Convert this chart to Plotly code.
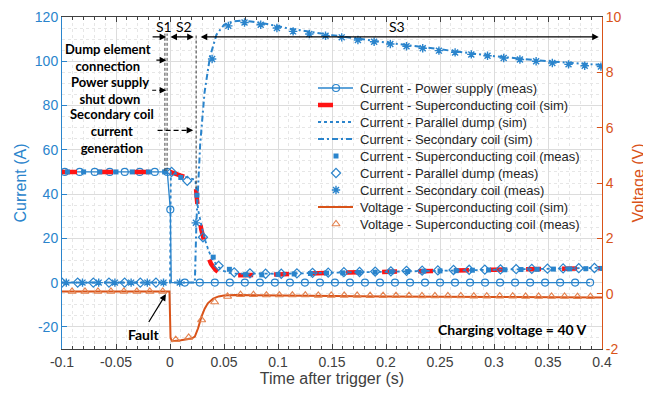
import plotly.graph_objects as go

# ---------------- data ----------------
# Current - Power supply (meas)
t_ps = [-0.0975, -0.0836, -0.0697, -0.0558, -0.0419, -0.028, -0.0141, -0.0025, 0.0003,
        0.0137, 0.0276, 0.0415, 0.0554, 0.0693, 0.0832, 0.0971, 0.111, 0.1249, 0.1388,
        0.1527, 0.1666, 0.1805, 0.1944, 0.2083, 0.2222, 0.2361, 0.25, 0.2639, 0.2778,
        0.2917, 0.3056, 0.3195, 0.3334, 0.3473, 0.3612, 0.3751, 0.389]
i_ps = [50, 50, 50, 50, 50, 50, 50, 50, 33,
        0, 0, 0, 0, 0, 0, 0, 0, 0, 0,
        0, 0, 0, 0, 0, 0, 0, 0, 0, 0,
        0, 0, 0, 0, 0, 0, 0, 0]
# extra breakpoint of the measured power supply trace (vertical drop)
t_ps_drop = [0.0012]
i_ps_drop = [0]

# Current - Superconducting coil (sim)
t_coil_sim = [-0.1, 0.0, 0.01, 0.0235, 0.0245, 0.026, 0.029, 0.032, 0.035, 0.038, 0.042,
              0.046, 0.05, 0.06, 0.08, 0.1, 0.15, 0.2, 0.25, 0.3, 0.35, 0.4]
i_coil_sim = [50, 50, 48.3, 46.5, 40, 32, 24, 17, 12, 8.5, 5.8,
              4.3, 3.7, 3.3, 3.4, 3.7, 4.4, 5.0, 5.4, 5.8, 6.2, 6.5]

# Current - Parallel dump (sim)
t_pd_sim = [-0.1, 0.0, 0.0008, 0.01, 0.0235, 0.0245, 0.026, 0.029, 0.032, 0.036, 0.04,
            0.045, 0.05, 0.055, 0.06, 0.1, 0.2, 0.3, 0.4]
i_pd_sim = [0, 0, 50, 48.3, 46.5, 40, 33, 26, 20, 14, 10,
            7, 5.2, 4.4, 4.1, 4.0, 5.0, 5.9, 6.7]

# Current - Secondary coil (sim)
t_sec_sim = [-0.1, 0.023, 0.0245, 0.026, 0.028, 0.032, 0.037, 0.043, 0.05, 0.058, 0.066,
             0.075, 0.09, 0.11, 0.15, 0.2, 0.25, 0.3, 0.35, 0.4]
i_sec_sim = [0, 0, 28, 45, 63, 86, 102, 112, 116.5, 118, 118.3,
             118, 116.8, 114.8, 111.8, 108.5, 105.3, 102.3, 100, 98.3]

# Current - Superconducting coil (meas)
t_coil = [-0.095, -0.08, -0.065, -0.05, -0.035, -0.02, -0.005, 0.01, 0.025, 0.04, 0.055,
          0.07, 0.085, 0.1, 0.115, 0.13, 0.145, 0.16, 0.175, 0.19, 0.205, 0.22, 0.235,
          0.25, 0.265, 0.28, 0.295, 0.31, 0.325, 0.34, 0.355, 0.37, 0.385, 0.4]
i_coil = [50, 50, 50, 50, 50, 50, 50, 47.5, 39.5, 11.5, 6,
          3.6, 3.5, 3.7, 3.9, 4.1, 4.3, 4.4, 4.6, 4.7, 4.9, 5.0, 5.2,
          5.3, 5.4, 5.6, 5.7, 5.8, 5.9, 6.0, 6.1, 6.2, 6.3, 6.4]

# Current - Parallel dump (meas)
t_pd = [-0.1, -0.0855, -0.071, -0.0565, -0.042, -0.0275, -0.013, 0.0015, 0.016, 0.0305,
        0.045, 0.0595, 0.074, 0.0885, 0.103, 0.1175, 0.132, 0.1465, 0.161, 0.1755, 0.19,
        0.2045, 0.219, 0.2335, 0.248, 0.2625, 0.277, 0.2915, 0.306, 0.3205, 0.335, 0.3495,
        0.364, 0.3785, 0.393]
i_pd = [0, 0, 0, 0, 0, 0, 0, 50, 46, 20.5,
        7.6, 4.6, 4.2, 4.0, 4.0, 4.2, 4.4, 4.5, 4.7, 4.8, 5.0,
        5.1, 5.3, 5.4, 5.5, 5.7, 5.8, 5.9, 6.0, 6.1, 6.2, 6.3,
        6.4, 6.5, 6.6]

# Current - Secondary coil (meas)
t_sec = [-0.096, -0.081, -0.066, -0.051, -0.036, -0.021, -0.006, 0.009, 0.024, 0.039,
         0.054, 0.069, 0.084, 0.099, 0.114, 0.129, 0.144, 0.159, 0.174, 0.189, 0.204,
         0.219, 0.234, 0.249, 0.264, 0.279, 0.294, 0.309, 0.324, 0.339, 0.354, 0.369,
         0.384, 0.399]
i_sec = [0, 0, 0, 0, 0, 0, 0, 0, 27, 101,
         116, 117.5, 116.5, 115, 113.5, 112.3, 111.5, 110.8, 109.6, 108.8, 107.8,
         106.8, 105.9, 104.8, 104, 103.1, 102.5, 101.5, 100.8, 100, 99.2, 98.6,
         98, 97.6]

# Voltage - Superconducting coil (sim)
t_v_sim = [-0.1, -0.0005, 0.0005, 0.002, 0.01, 0.02, 0.023, 0.026, 0.029, 0.032, 0.035,
           0.04, 0.045, 0.05, 0.06, 0.1, 0.2, 0.3, 0.4]
v_sim = [0.08, 0.08, -1.6, -1.72, -1.68, -1.62, -1.55, -1.25, -0.85, -0.55, -0.35,
         -0.18, -0.1, -0.07, -0.05, -0.07, -0.1, -0.12, -0.14]

# Voltage - Superconducting coil (meas)
t_v = [-0.0907, -0.0787, -0.0667, -0.0547, -0.0427, -0.0307, -0.0187, -0.0067, 0.0053,
       0.0173, 0.0293, 0.0413, 0.0533, 0.0653, 0.0773, 0.0893, 0.1013, 0.1133, 0.1253,
       0.1373, 0.1493, 0.1613, 0.1733, 0.1853, 0.1973, 0.2093, 0.2213, 0.2333, 0.2453,
       0.2573, 0.2693, 0.2813, 0.2933, 0.3053, 0.3173, 0.3293, 0.3413, 0.3533, 0.3653,
       0.3773, 0.3893]
v_meas = [0.08, 0.08, 0.08, 0.08, 0.08, 0.08, 0.08, 0.08, -1.66,
          -1.58, -0.95, -0.3, -0.1, -0.04, -0.04, -0.05, -0.05, -0.05, -0.05,
          -0.06, -0.06, -0.06, -0.06, -0.07, -0.07, -0.07, -0.07, -0.08, -0.08,
          -0.08, -0.08, -0.09, -0.09, -0.09, -0.09, -0.10, -0.10, -0.10, -0.10,
          -0.11, -0.11]

# tick labels
x_tick_vals = [-0.1, -0.05, 0, 0.05, 0.1, 0.15, 0.2, 0.25, 0.3, 0.35, 0.4]
x_tick_text = ["-0.1", "-0.05", "0", "0.05", "0.1", "0.15", "0.2", "0.25", "0.3", "0.35", "0.4"]
y_tick_vals = [-20, 0, 20, 40, 60, 80, 100, 120]
y_tick_text = ["-20", "0", "20", "40", "60", "80", "100", "120"]
y2_tick_vals = [-2, 0, 2, 4, 6, 8, 10]
y2_tick_text = ["-2", "0", "2", "4", "6", "8", "10"]

legend_names = [
    "Current - Power supply (meas)",
    "Current - Superconducting coil (sim)",
    "Current - Parallel dump (sim)",
    "Current - Secondary coil (sim)",
    "Current - Superconducting coil (meas)",
    "Current - Parallel dump (meas)",
    "Current - Secondary coil (meas)",
    "Voltage - Superconducting coil (sim)",
    "Voltage - Superconducting coil (meas)",
]

# ---------------- styles / layout ----------------
# The page body has an 8 px default margin, so the figure is drawn 8 px in and down.
OFF = 8
SCREEN_W, SCREEN_H = 651, 393
W, H = SCREEN_W - OFF, SCREEN_H - OFF
PX0, PX1 = 62, 602     # plot area on screen
PY0, PY1 = 17, 349
ML, MT = PX0 - OFF, PY0 - OFF
MR, MB = W - (PX1 - OFF), H - (PY1 - OFF)

BLUE = "#2A84CC"
ORANGE = "#D95319"
TRI = "#E3824F"
RED = "#FF1414"
GREY = "#404040"
FONT = "Liberation Sans, Arial, sans-serif"
ANN_FONT = "Lato, sans-serif"

s_ps_line = dict(color=BLUE, width=1.3)
s_ps_mk = dict(symbol="circle-open", size=7, color=BLUE, line=dict(width=1.2, color=BLUE))
s_coil_sim = dict(color=RED, width=4.5, dash="15px,21px")
s_pd_sim = dict(color=BLUE, width=1.8, dash="dot")
s_sec_sim = dict(color=BLUE, width=2, dash="6px,3px,2px,3px")
s_coil_mk = dict(symbol="square", size=5, color=BLUE)
s_pd_mk = dict(symbol="diamond-open", size=7, color=BLUE, line=dict(width=1.2, color=BLUE))
s_sec_mk = dict(symbol="asterisk-open", size=7, color=BLUE, line=dict(width=1.4, color=BLUE))
s_v_sim = dict(color=ORANGE, width=2)
s_v_mk = dict(symbol="triangle-up-open", size=7, color=TRI, line=dict(width=1.1, color=TRI))

fig = go.Figure()

ps_pts = sorted(zip(t_ps + t_ps_drop, i_ps + i_ps_drop))
fig.add_trace(go.Scatter(x=[p[0] for p in ps_pts], y=[p[1] for p in ps_pts], mode="lines",
                         line=s_ps_line, hoverinfo="skip"))
fig.add_trace(go.Scatter(x=t_ps, y=i_ps, mode="markers", marker=s_ps_mk))
fig.add_trace(go.Scatter(x=t_coil_sim, y=i_coil_sim, mode="lines", line=s_coil_sim))
fig.add_trace(go.Scatter(x=t_pd_sim, y=i_pd_sim, mode="lines", line=s_pd_sim))
fig.add_trace(go.Scatter(x=t_sec_sim, y=i_sec_sim, mode="lines", line=s_sec_sim))
fig.add_trace(go.Scatter(x=t_coil, y=i_coil, mode="markers", marker=s_coil_mk))
fig.add_trace(go.Scatter(x=t_pd, y=i_pd, mode="markers", marker=s_pd_mk))
fig.add_trace(go.Scatter(x=t_sec, y=i_sec, mode="markers", marker=s_sec_mk))
fig.add_trace(go.Scatter(x=t_v_sim, y=v_sim, mode="lines", line=s_v_sim, yaxis="y2"))
fig.add_trace(go.Scatter(x=t_v, y=v_meas, mode="markers", marker=s_v_mk, yaxis="y2"))

# ---------------- legend (drawn manually on a screen-pixel overlay axis) ----------------
leg_specs = [
    dict(line=s_ps_line, marker=s_ps_mk),
    dict(line=s_coil_sim),
    dict(line=s_pd_sim),
    dict(line=s_sec_sim),
    dict(marker=s_coil_mk),
    dict(marker=s_pd_mk),
    dict(marker=s_sec_mk),
    dict(line=s_v_sim),
    dict(marker=s_v_mk),
]
KEY_X0, KEY_X1, KEY_XM, TEXT_X = 318, 353, 336, 358
ROW0, ROWH = 88, 17
ann = []
for i, (name, spec) in enumerate(zip(legend_names, leg_specs)):
    yrow = ROW0 + ROWH * i
    if "line" in spec:
        fig.add_trace(go.Scatter(x=[KEY_X0, KEY_X1], y=[yrow, yrow], mode="lines",
                                 line=spec["line"], xaxis="x3", yaxis="y3", hoverinfo="skip",
                                 cliponaxis=False))
    if "marker" in spec:
        fig.add_trace(go.Scatter(x=[KEY_XM], y=[yrow], mode="markers", marker=spec["marker"],
                                 xaxis="x3", yaxis="y3", hoverinfo="skip", cliponaxis=False))
    ann.append(dict(x=TEXT_X, y=yrow, xref="x3", yref="y3", text=name, showarrow=False,
                    xanchor="left", yanchor="middle",
                    font=dict(family=FONT, size=13, color="#262626")))

# ---------------- annotations ----------------
def txt(x, y, s, bold=True, size=14):
    ann.append(dict(x=x, y=y, xref="x", yref="y", text=("<b>%s</b>" % s) if bold else s,
                    showarrow=False, font=dict(family=ANN_FONT, size=size, color="black"),
                    xanchor="center", yanchor="middle"))

def arrow(x0, y0, x1, y1, both=False):
    ann.append(dict(x=x1, y=y1, ax=x0, ay=y0, xref="x", yref="y", axref="x", ayref="y",
                    text="", showarrow=True, arrowhead=2, arrowsize=1.1, arrowwidth=1.2,
                    arrowcolor="black", arrowside="end+start" if both else "end",
                    startarrowhead=2, startarrowsize=1.1))

def headonly(x1, y1):
    ann.append(dict(x=x1, y=y1, ax=-7, ay=0, xref="x", yref="y",
                    text="", showarrow=True, arrowhead=2, arrowsize=1.1, arrowwidth=1.2,
                    arrowcolor="black"))

txt(-0.0056, 115.5, "S1", bold=False, size=14)
txt(0.0125, 115.5, "S2", bold=False, size=14)
txt(0.21, 115.5, "S3", bold=False, size=14)
arrow(-0.0175, 111.0, -0.0035, 111.0)
arrow(-0.001, 111.0, 0.022, 111.0, both=True)
arrow(0.027, 111.0, 0.397, 111.0, both=True)

txt(-0.057, 101.8, "Dump element<br>connection", size=13)
arrow(-0.014, 100.5, -0.0035, 100.5)
txt(-0.056, 86.9, "Power supply<br>shut down", size=13)
headonly(-0.0035, 86.9)
txt(-0.054, 68.6, "Secondary coil<br>current<br>generation", size=13)
headonly(0.0215, 68.8)

txt(-0.0245, -23.5, "Fault")
arrow(-0.0205, -18.5, -0.0038, -5.2)
txt(0.317, -21.3, "Charging voltage = 40 V", size=14)

shapes = [
    dict(type="line", xref="x", yref="y", x0=-0.0047, x1=-0.0047, y0=50.5, y1=112.5,
         line=dict(color="#444444", width=1, dash="3px,2px")),
    dict(type="line", xref="x", yref="y", x0=-0.0027, x1=-0.0027, y0=50.5, y1=112.5,
         line=dict(color="#444444", width=1, dash="3px,2px")),
    dict(type="line", xref="x", yref="y", x0=0.0242, x1=0.0242, y0=42.5, y1=112.5,
         line=dict(color="#333333", width=1, dash="3px,2px")),
    dict(type="line", xref="x", yref="y", x0=-0.0165, x1=-0.006, y0=86.9, y1=86.9,
         line=dict(color="black", width=1.2, dash="4px,3px")),
    dict(type="line", xref="x", yref="y", x0=-0.0115, x1=0.016, y0=68.8, y1=68.8,
         line=dict(color="black", width=1.2, dash="5px,3px")),
]

fig.update_layout(
    width=W, height=H,
    margin=dict(l=ML, r=MR, t=MT, b=MB, autoexpand=False),
    paper_bgcolor="white", plot_bgcolor="white",
    font=dict(family=FONT, size=12, color=GREY),
    showlegend=False,
    annotations=ann, shapes=shapes,
    xaxis=dict(range=[-0.1, 0.4], tickvals=x_tick_vals, ticktext=x_tick_text,
               ticks="inside", ticklen=5, tickcolor=GREY, tickwidth=1,
               showline=True, linecolor=GREY, linewidth=1, mirror="ticks",
               showgrid=True, gridcolor="#dcdcdc", gridwidth=1, zeroline=False,
               automargin=False, ticklabeloverflow="allow",
               minor=dict(dtick=0.01, tick0=0, ticks="inside", ticklen=3, tickcolor=GREY,
                          showgrid=True, gridcolor="#e6e6e6", griddash="dot"),
               tickfont=dict(size=14, color=GREY),
               title=dict(text="Time after trigger (s)", font=dict(size=16, color=GREY), standoff=4)),
    yaxis=dict(range=[-30, 120], tickvals=y_tick_vals, ticktext=y_tick_text,
               ticks="inside", ticklen=5, tickcolor=BLUE, showline=True, linecolor=BLUE,
               linewidth=1, showgrid=True, gridcolor="#dcdcdc", zeroline=False,
               automargin=False, ticklabeloverflow="allow",
               minor=dict(dtick=5, tick0=0, showgrid=True, gridcolor="#e6e6e6", griddash="dot"),
               tickfont=dict(size=14, color=BLUE),
               title=dict(text="Current (A)", font=dict(size=16, color=BLUE), standoff=4)),
    yaxis2=dict(range=[-2, 10], tickvals=y2_tick_vals, ticktext=y2_tick_text, overlaying="y",
                side="right", ticks="inside", ticklen=5, tickcolor=ORANGE, showline=True,
                linecolor=ORANGE, linewidth=1, showgrid=False, zeroline=False,
                automargin=False, ticklabeloverflow="allow",
                tickfont=dict(size=14, color=ORANGE),
                title=dict(text="Voltage (V)", font=dict(size=16, color=ORANGE), standoff=12)),
    xaxis3=dict(range=[PX0, PX1], overlaying="x", anchor="y3", visible=False, fixedrange=True),
    yaxis3=dict(range=[PY1, PY0], overlaying="y", anchor="x3", visible=False, fixedrange=True),
)

fig.write_html("out.html")
